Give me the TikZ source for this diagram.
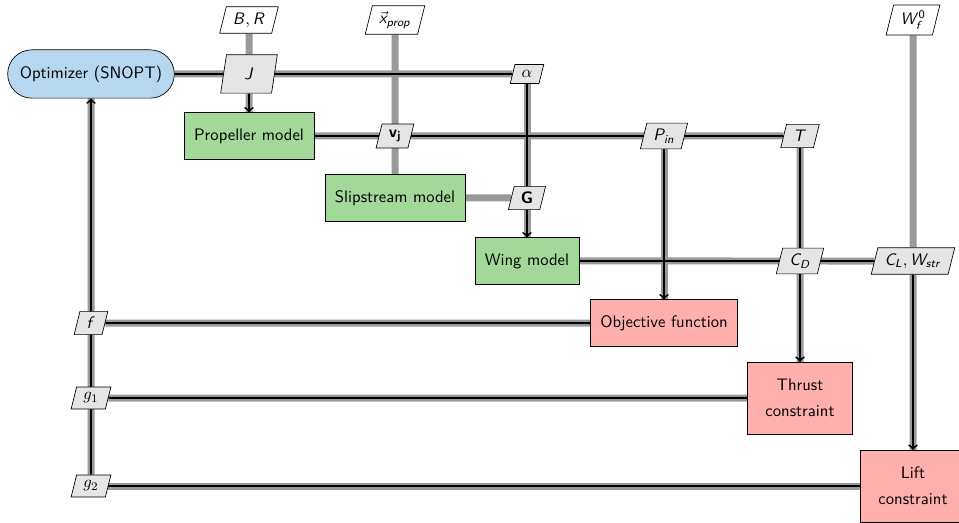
\documentclass[tikz,border=0pt]{standalone}
\usepackage{amsmath,amssymb}
\usetikzlibrary{shapes.geometric,backgrounds}
\DeclareMathAlphabet{\mathsfit}{OT1}{cmss}{m}{sl}
\DeclareMathAlphabet{\mathsfbf}{OT1}{cmss}{bx}{n}
\definecolor{optblue}{RGB}{182,215,240}
\definecolor{fungreen}{RGB}{162,217,152}
\definecolor{conred}{RGB}{255,176,172}

\tikzset{
	optimizer/.style={draw,fill=optblue,rounded corners=14.5pt,minimum width=100pt,minimum height=29pt,font=\sffamily},
	function/.style={draw,fill=fungreen,inner xsep=6pt,minimum height=28pt,font=\sffamily},
	constraint/.style={draw,fill=conred,inner xsep=6pt,minimum height=28pt,font=\sffamily,align=center},
	datanode/.style={draw,trapezium,trapezium left angle=76,trapezium right angle=104,fill=gray!20,inner xsep=4pt,inner ysep=3.5pt},
	inputnode/.style={datanode,fill=white},
	dataline/.style={draw=gray!80,line width=4.2pt},
	procline/.style={draw=black,line width=1.1pt}
}

\begin{document}
\begin{tikzpicture}[x=0.6pt,y=-0.6pt]
			\useasboundingbox (0,0) rectangle (959,523);
			
			\node[optimizer] (opt) at (91,74) {Optimizer (SNOPT)};
			\node[inputnode] (br) at (249,20) {$\mathsfit{B, R}$};
			\node[inputnode] (xprop) at (395,20) {$\vec{\mathsfit{x}}_{\mathsfit{prop}}$};
			\node[inputnode] (wf) at (913,20) {$\mathsfit{W}_{\mathsfit{f}}^{\mathsf{0}}$};
			\node[datanode,minimum width=34pt,minimum height=23pt,trapezium stretches body] (J) at (249,74) {$\mathsfit{J}$};
			\node[datanode] (alpha) at (527,74) {$\alpha$};
			
			\node[function] (prop) at (249,136) {Propeller model};
			\node[datanode] (vj) at (395,136) {$\mathsfbf{v_j}$};
			\node[datanode] (pin) at (664,136) {$\mathsfit{P}_{\mathsfit{in}}$};
			\node[datanode] (T) at (800,136) {$\mathsfit{T}$};
			\node[function] (slip) at (395,198) {Slipstream model};
			\node[datanode] (G) at (527,198) {$\mathsfbf{G}$};
			\node[function] (wing) at (527,261) {Wing model};
			\node[datanode] (cd) at (800,261) {$\mathsfit{C}_{\mathsfit{D}}$};
			\node[datanode] (clw) at (913,261) {$\mathsfit{C}_{\mathsfit{L}}, \mathsfit{W}_{\mathsfit{str}}$};
			
			\node[constraint] (obj) at (664,323) {Objective function};
			\node[datanode] (f) at (91,323) {$\mathsfit{f}$};
			\node[constraint,minimum width=63pt,minimum height=43pt] (thr) at (800,398) {Thrust\\[3.5pt]constraint};
			\node[datanode] (g1) at (91,398) {$g_1$};
			\node[constraint,minimum width=63pt,minimum height=43pt] (lift) at (913,486) {Lift\\[3.5pt]constraint};
			\node[datanode] (g2) at (91,486) {$g_2$};
			
			% data first, process on top
			\begin{scope}[on background layer]
			\draw[dataline] (br) -- (J); \draw[dataline] (xprop) -- (slip); \draw[dataline] (wf) -- (clw);
			\draw[dataline] (opt) -- (alpha); \draw[dataline] (J) -- (prop);
			\draw[dataline] (prop) -- (T); \draw[dataline] (alpha) -- (wing); \draw[dataline] (slip) -- (G);
			\draw[dataline] (pin) -- (obj); \draw[dataline] (T) -- (thr);
			\draw[dataline] (wing) -- (clw); \draw[dataline] (clw) -- (lift);
			\draw[dataline] (obj) -- (f); \draw[dataline] (thr) -- (g1); \draw[dataline] (lift) -- (g2);
			\draw[dataline] (g2) -- (opt);
			
			\draw[procline] (opt) -- (alpha) -- (G); \draw[procline,->] (G) -- (wing);
			\draw[procline,->] (J) -- (prop);
			\draw[procline] (prop) -- (T);
			\draw[procline,->] (pin) -- (obj);
			\draw[procline] (T) -- (cd); \draw[procline,->] (cd) -- (thr);
			\draw[procline] (wing) -- (clw); \draw[procline,->] (clw) -- (lift);
			\draw[procline] (obj) -- (f); \draw[procline] (thr) -- (g1); \draw[procline] (lift) -- (g2);
			\draw[procline,->] (g2) -- (opt);
			\end{scope}
\end{tikzpicture}
\end{document}
